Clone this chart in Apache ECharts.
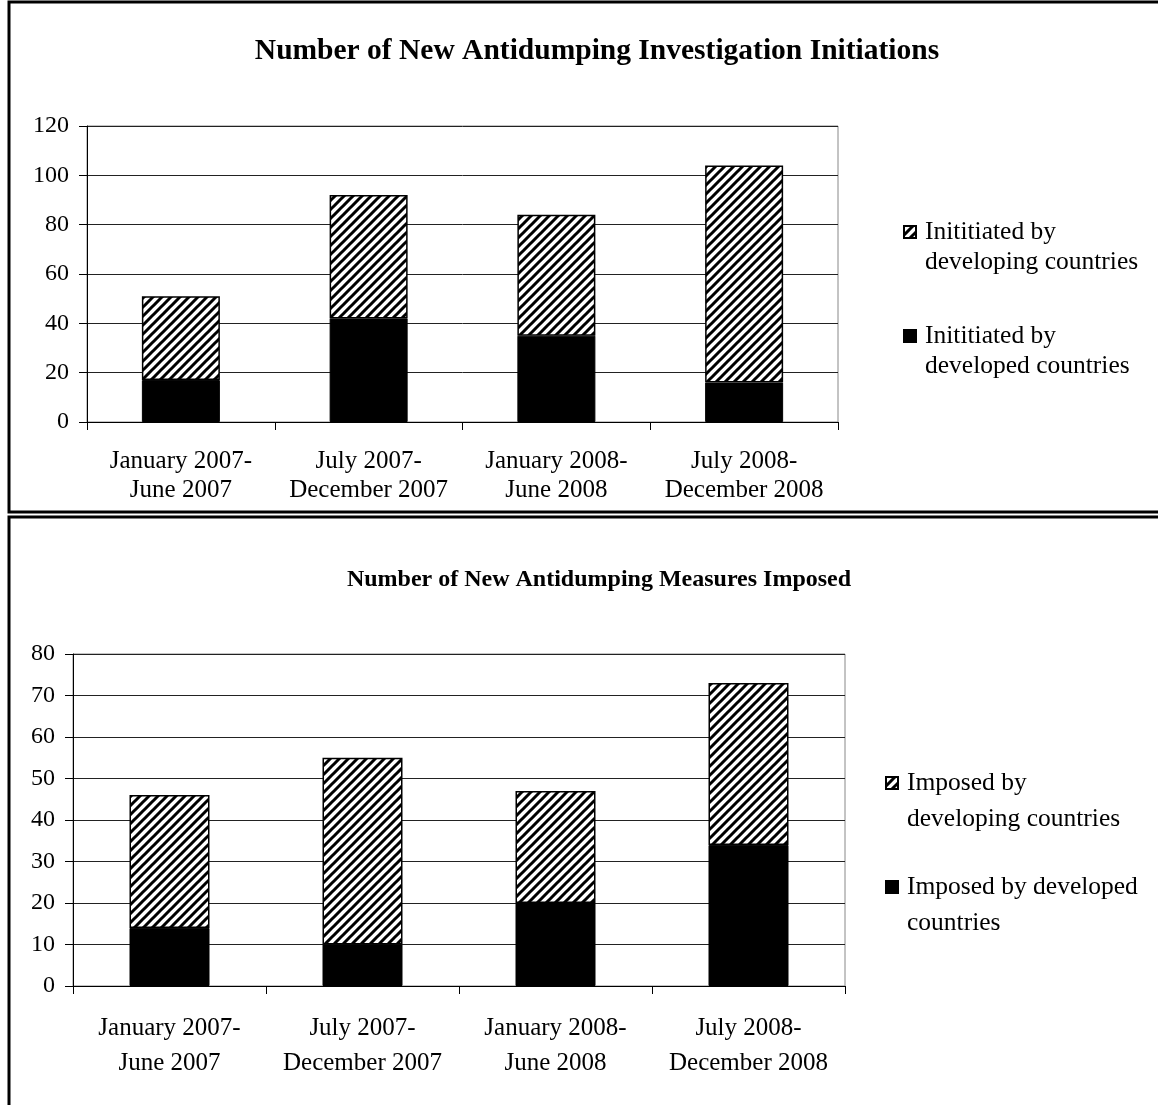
<!DOCTYPE html>
<html>
<head>
<meta charset="utf-8">
<script src="https://cdn.jsdelivr.net/npm/echarts@6/dist/echarts.min.js"></script>
<style>
  html, body { margin: 0; padding: 0; background: #fff; }
  #chart { width: 1158px; height: 1105px; }
</style>
</head>
<body>
<div id="chart"></div>
<script>
// periods shared by both panels
const periods = ['January 2007-\nJune 2007', 'July 2007-\nDecember 2007', 'January 2008-\nJune 2008', 'July 2008-\nDecember 2008'];

// top panel: investigation initiations
const initDeveloped = [17, 42, 35, 16];
const initDeveloping = [34, 50, 49, 88];
const initYTicks = [0, 20, 40, 60, 80, 100, 120];

// bottom panel: measures imposed
const impDeveloped = [14, 10, 20, 34];
const impDeveloping = [32, 45, 27, 39];
const impYTicks = [0, 10, 20, 30, 40, 50, 60, 70, 80];

const serif = '"Liberation Serif", "Times New Roman", serif';

// diagonal hatch like the excel pattern fill ( "/" stripes )
function hatch(s) {
  const c = document.createElement('canvas');
  c.width = s; c.height = s;
  const g = c.getContext('2d');
  g.fillStyle = '#fff';
  g.fillRect(0, 0, s, s);
  g.strokeStyle = '#000';
  g.lineWidth = 3;
  g.beginPath();
  g.moveTo(-3, s + 3); g.lineTo(s + 3, -3);      // x + y = s
  g.moveTo(-3, 3); g.lineTo(3, -3);              // x + y = 0
  g.moveTo(s - 3, s + 3); g.lineTo(s + 3, s - 3); // x + y = 2s
  g.stroke();
  return { image: c, repeat: 'repeat' };
}
const hatchFill = hatch(9);

function yAxis(idx, ticks) {
  return {
    type: 'value',
    gridIndex: idx,
    min: ticks[0],
    max: ticks[ticks.length - 1],
    interval: ticks[1] - ticks[0],
    axisLine: { show: true, lineStyle: { color: '#000', width: 1 } },
    axisTick: { show: true, length: 8, lineStyle: { color: '#000' } },
    axisLabel: { color: '#000', fontFamily: serif, fontSize: 24, margin: 18 },
    splitLine: { lineStyle: { color: '#222', width: 1 } }
  };
}

function xAxis(idx, lh) {
  return {
    type: 'category',
    gridIndex: idx,
    data: periods,
    axisLine: { lineStyle: { color: '#000', width: 1 } },
    axisTick: { show: true, length: 8, lineStyle: { color: '#000' } },
    axisLabel: { color: '#000', fontFamily: serif, fontSize: 25, lineHeight: lh, margin: 24.5, interval: 0 }
  };
}

// icon path keeps the square at the top so it sits on the first text line
function legendFor(names, left, top, lh, gap) {
  const h = 12 + lh;
  return {
    orient: 'vertical',
    left: left,
    top: top,
    data: names,
    icon: 'path://M0,0L12,0L12,12L0,12ZM16,' + h + 'L16,' + h,
    itemWidth: 16,
    itemHeight: h,
    itemGap: gap,
    selectedMode: false,
    textStyle: { color: '#000', fontFamily: serif, fontSize: 25.5, lineHeight: lh }
  };
}

const names = {
  a: 'Inititiated by\ndeveloping countries',
  b: 'Inititiated by\ndeveloped countries',
  c: 'Imposed by\ndeveloping countries',
  d: 'Imposed by developed\ncountries'
};

const option = {
  animation: false,
  backgroundColor: '#fff',
  title: [
    {
      text: 'Number of New Antidumping Investigation Initiations',
      left: 592, top: 31, textAlign: 'center',
      textStyle: { fontFamily: serif, fontSize: 29.5, fontWeight: 'bold', color: '#000' }
    },
    {
      text: 'Number of New Antidumping Measures Imposed',
      left: 594, top: 563, textAlign: 'center',
      textStyle: { fontFamily: serif, fontSize: 24, fontWeight: 'bold', color: '#000' }
    }
  ],
  legend: [
    legendFor([names.a, names.b], 898, 212, 30, 44),
    legendFor([names.c, names.d], 880, 760, 36, 32)
  ],
  grid: [
    { left: 87, right: 320, top: 126, bottom: 683, show: true, borderColor: '#888', borderWidth: 1 },
    { left: 73, right: 313, top: 654, bottom: 119, show: true, borderColor: '#888', borderWidth: 1 }
  ],
  xAxis: [xAxis(0, 29), xAxis(1, 35)],
  yAxis: [yAxis(0, initYTicks), yAxis(1, impYTicks)],
  series: [
    {
      name: names.b, type: 'bar', stack: 'top', xAxisIndex: 0, yAxisIndex: 0,
      data: initDeveloped, barWidth: 78,
      itemStyle: { color: '#000', borderColor: '#000', borderWidth: 1 }
    },
    {
      name: names.a, type: 'bar', stack: 'top', xAxisIndex: 0, yAxisIndex: 0,
      data: initDeveloping, barWidth: 78,
      itemStyle: { color: hatchFill, borderColor: '#000', borderWidth: 1.5 }
    },
    {
      name: names.d, type: 'bar', stack: 'bot', xAxisIndex: 1, yAxisIndex: 1,
      data: impDeveloped, barWidth: 80,
      itemStyle: { color: '#000', borderColor: '#000', borderWidth: 1 }
    },
    {
      name: names.c, type: 'bar', stack: 'bot', xAxisIndex: 1, yAxisIndex: 1,
      data: impDeveloping, barWidth: 80,
      itemStyle: { color: hatchFill, borderColor: '#000', borderWidth: 1.5 }
    }
  ],
  graphic: [
    { type: 'rect', shape: { x: 9, y: 2, width: 1160, height: 510 }, style: { fill: 'none', stroke: '#000', lineWidth: 3 } },
    { type: 'rect', shape: { x: 9, y: 517, width: 1160, height: 600 }, style: { fill: 'none', stroke: '#000', lineWidth: 3 } }
  ]
};

const myChart = echarts.init(document.getElementById('chart'));
myChart.setOption(option);
</script>
</body>
</html>
